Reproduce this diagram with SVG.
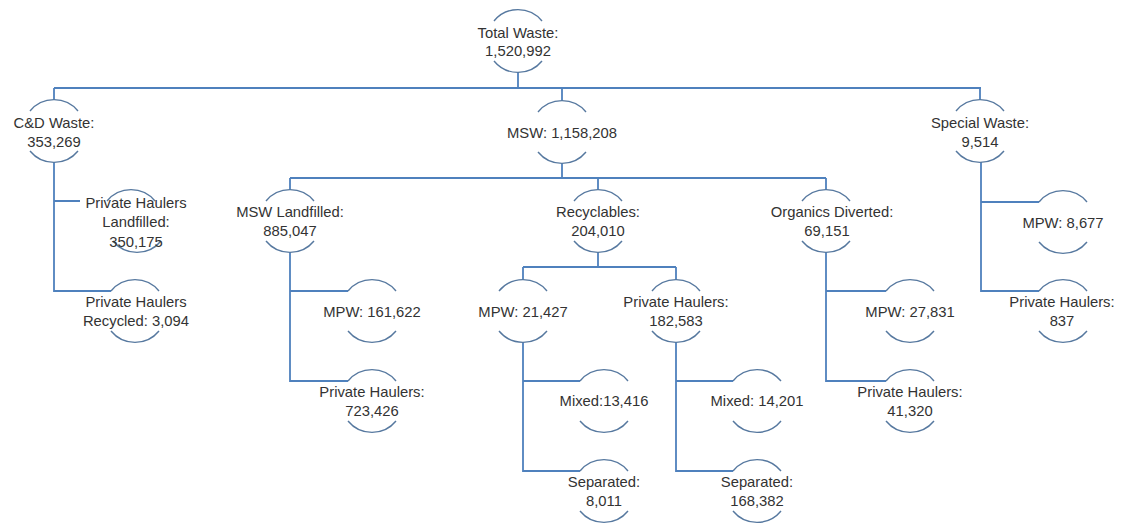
<svg xmlns="http://www.w3.org/2000/svg" xmlns:xlink="http://www.w3.org/1999/xlink" width="1123" height="529" viewBox="0 0 1123 529">
<style>
.bg{fill:#ffffff}
.arc{fill:none;stroke:#56789f;stroke-width:1.4}
.con{fill:none;stroke:#4f81bd;stroke-width:1.8}
text{font-family:"Liberation Sans",Arial,sans-serif;font-size:14.8px;fill:#333333;text-anchor:middle}
</style>
<defs>
<path id="arcT" class="arc" d="M-24,-20 A31,31 0 0 1 24,-20"/>
<path id="arcB" class="arc" d="M-24,20 A31,31 0 0 0 24,20"/>
</defs>
<rect class="bg" x="0" y="0" width="1123" height="529"/>
<g id="connectors">
<path class="con" d="M518,72 V88 M54,88 H981 M54,88 V100 M562,88 V101 M980,88 V100"/>
<path class="con" d="M562,163 V178 M290,178 H826 M290,178 V190 M598,178 V190 M826,178 V190"/>
<path class="con" d="M54,162 V291 H111 M54,201 H80"/>
<path class="con" d="M290,252 V381 H348 M290,291 H348"/>
<path class="con" d="M598,252 V267 M523,267 H676 M523,267 V280 M676,267 V280"/>
<path class="con" d="M523,342 V471 H580 M523,381 H580"/>
<path class="con" d="M676,342 V471 H733 M676,381 H733"/>
<path class="con" d="M826,252 V381 H886 M826,291 H886"/>
<path class="con" d="M981,162 V291 H1039 M981,202 H1039"/>
</g>
<g id="total-waste"><use href="#arcT" x="518" y="41"/><use href="#arcB" x="518" y="41"/><text x="518" y="38">Total Waste:</text><text x="518" y="56">1,520,992</text></g>
<g id="cd-waste"><use href="#arcT" x="54" y="131"/><use href="#arcB" x="54" y="131"/><text x="54" y="128">C&amp;D Waste:</text><text x="54" y="147">353,269</text></g>
<g id="msw"><use href="#arcT" x="562" y="132"/><use href="#arcB" x="562" y="132"/><text x="562" y="138">MSW: 1,158,208</text></g>
<g id="special-waste"><use href="#arcT" x="980" y="131"/><use href="#arcB" x="980" y="131"/><text x="980" y="128">Special Waste:</text><text x="980" y="147">9,514</text></g>
<g id="cd-ph-landfilled"><use href="#arcT" x="131" y="221"/><use href="#arcB" x="137" y="221"/><text x="136" y="208">Private Haulers</text><text x="136" y="227">Landfilled:</text><text x="136" y="247">350,175</text></g>
<g id="cd-ph-recycled"><use href="#arcT" x="135" y="311"/><use href="#arcB" x="135" y="311"/><text x="136" y="307">Private Haulers</text><text x="136" y="326">Recycled: 3,094</text></g>
<g id="msw-landfilled"><use href="#arcT" x="290" y="221"/><use href="#arcB" x="290" y="221"/><text x="290" y="217">MSW Landfilled:</text><text x="290" y="236">885,047</text></g>
<g id="msw-landfilled-mpw"><use href="#arcT" x="372" y="311"/><use href="#arcB" x="372" y="311"/><text x="372" y="317">MPW: 161,622</text></g>
<g id="msw-landfilled-ph"><use href="#arcT" x="372" y="401"/><use href="#arcB" x="372" y="401"/><text x="372" y="397">Private Haulers:</text><text x="372" y="416">723,426</text></g>
<g id="recyclables"><use href="#arcT" x="598" y="221"/><use href="#arcB" x="598" y="221"/><text x="598" y="217">Recyclables:</text><text x="598" y="236">204,010</text></g>
<g id="recyclables-mpw"><use href="#arcT" x="523" y="311"/><use href="#arcB" x="523" y="311"/><text x="523" y="317">MPW: 21,427</text></g>
<g id="recyclables-ph"><use href="#arcT" x="676" y="311"/><use href="#arcB" x="676" y="311"/><text x="676" y="307">Private Haulers:</text><text x="676" y="326">182,583</text></g>
<g id="mpw-mixed"><use href="#arcT" x="604" y="401"/><use href="#arcB" x="604" y="401"/><text x="604" y="406">Mixed:13,416</text></g>
<g id="mpw-separated"><use href="#arcT" x="604" y="491"/><use href="#arcB" x="604" y="491"/><text x="604" y="487">Separated:</text><text x="604" y="506">8,011</text></g>
<g id="ph-mixed"><use href="#arcT" x="757" y="401"/><use href="#arcB" x="757" y="401"/><text x="757" y="406">Mixed: 14,201</text></g>
<g id="ph-separated"><use href="#arcT" x="757" y="491"/><use href="#arcB" x="757" y="491"/><text x="757" y="487">Separated:</text><text x="757" y="506">168,382</text></g>
<g id="organics"><use href="#arcT" x="826" y="221"/><use href="#arcB" x="826" y="221"/><text x="832" y="217">Organics Diverted:</text><text x="827" y="236">69,151</text></g>
<g id="organics-mpw"><use href="#arcT" x="910" y="311"/><use href="#arcB" x="910" y="311"/><text x="910" y="317">MPW: 27,831</text></g>
<g id="organics-ph"><use href="#arcT" x="910" y="401"/><use href="#arcB" x="910" y="401"/><text x="910" y="397">Private Haulers:</text><text x="910" y="416">41,320</text></g>
<g id="special-mpw"><use href="#arcT" x="1063" y="222"/><use href="#arcB" x="1063" y="222"/><text x="1063" y="228">MPW: 8,677</text></g>
<g id="special-ph"><use href="#arcT" x="1063" y="311"/><use href="#arcB" x="1063" y="311"/><text x="1062" y="307">Private Haulers:</text><text x="1062" y="326">837</text></g>
</svg>
